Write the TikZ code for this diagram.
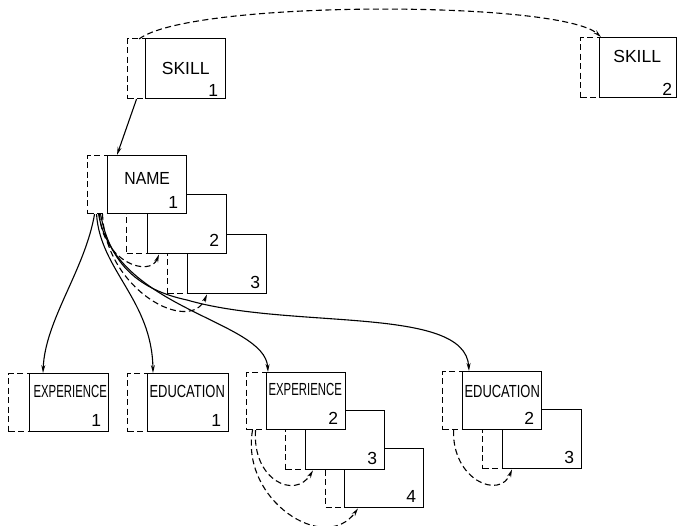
\documentclass[tikz,border=0pt]{standalone}
\usepackage{fontspec}
\setmainfont{Liberation Sans}
\usepackage{graphicx}
\usetikzlibrary{arrows.meta,calc}
% horizontally squeezed caption text
\newcommand\sqz[2]{\scalebox{#1}[1]{#2}}
\begin{document}
\begin{tikzpicture}[x=1pt,y=-1pt,
  card/.style={draw, line width=1.4pt, fill=white, anchor=north west, inner sep=0,
               minimum width=79pt, minimum height=58pt},
  ghost/.style n args={2}{draw, line width=1.1pt, dash pattern=on 6pt off 3.5pt,
               fill=white, anchor=north west, inner sep=0,
               minimum width=#1, minimum height=#2},
  ttl/.style={inner sep=0, anchor=north, font=\fontsize{17.5}{17.5}\selectfont},
  num/.style={inner sep=0, anchor=base east, font=\fontsize{17.5}{17.5}\selectfont},
  link/.style={line width=1.1pt, -{Stealth[length=8pt,width=4pt]}},
  dlink/.style={link, dash pattern=on 6pt off 3.5pt},
]
\useasboundingbox[fill=white] (0,0) rectangle (678,526);

% ---- SKILL records ----
\node[ghost={18pt}{60pt}] (s1g) at (127,38) {};
\node[card, minimum width=80pt, minimum height=60pt] (s1) at (145,38) {};
\node[ttl] (s1t) at ($(s1.north)+(0,24)$) {\sqz{1}{SKILL}};
\node[num] (s1n) at ($(s1.south east)+(-8,-3)$) {1};

\node[ghost={19pt}{60pt}] (s2g) at (580,37) {};
\node[card, minimum width=77pt, minimum height=60pt] (s2) at (599,37) {};
\node[ttl] (s2t) at ($(s2.north)+(-1,13)$) {\sqz{1}{SKILL}};
\node[num] (s2n) at ($(s2.south east)+(-5,-3)$) {2};

% ---- NAME records (stacked, back to front) ----
\node[ghost={20pt}{40pt}] (n3g) at (167,253) {};
\node[card, minimum height=59pt] (n3) at (187,234) {};
\node[num] (n3n) at ($(n3.south east)+(-7,-6)$) {3};
\node[ghost={21pt}{40pt}] (n2g) at (126,213) {};
\node[card, minimum height=59pt] (n2) at (147,194) {};
\node[num] (n2n) at ($(n2.south east)+(-8,-8)$) {2};
\node[ghost={20pt}{58pt}] (n1g) at (87,155) {};
\node[card] (n1) at (107,155) {};
\node[ttl] (n1t) at ($(n1.north)+(0,17)$) {\sqz{0.9}{NAME}};
\node[num] (n1n) at ($(n1.south east)+(-9,-6)$) {1};

% ---- EXPERIENCE 1 / EDUCATION 1 ----
\node[ghost={21pt}{58pt}] (e1g) at (8,373) {};
\node[card] (e1) at (29,373) {};
\node[ttl] (e1t) at ($(e1.north)+(1,12)$) {\sqz{0.65}{EXPERIENCE}};
\node[num] (e1n) at ($(e1.south east)+(-8,-6)$) {1};

\node[ghost={20pt}{58pt}] (d1g) at (127,373) {};
\node[card, minimum width=81pt] (d1) at (147,373) {};
\node[ttl] (d1t) at ($(d1.north)+(-1,12)$) {\sqz{0.74}{EDUCATION}};
\node[num] (d1n) at ($(d1.south east)+(-8,-6)$) {1};

% ---- EXPERIENCE 2..4 ----
\node[ghost={19pt}{38pt}] (e4g) at (325,469) {};
\node[card, minimum height=59pt] (e4) at (344,448) {};
\node[num] (e4n) at ($(e4.south east)+(-8,-6)$) {4};
\node[ghost={20pt}{40pt}] (e3g) at (285,429) {};
\node[card, minimum height=59pt] (e3) at (305,410) {};
\node[num] (e3n) at ($(e3.south east)+(-8,-6)$) {3};
\node[ghost={20pt}{57pt}] (e2g) at (246,372) {};
\node[card, minimum height=57pt] (e2) at (266,372) {};
\node[ttl] (e2t) at ($(e2.north)+(-1,11)$) {\sqz{0.65}{EXPERIENCE}};
\node[num] (e2n) at ($(e2.south east)+(-8,-6)$) {2};

% ---- EDUCATION 2..3 ----
\node[ghost={20pt}{39pt}] (d3g) at (482,429) {};
\node[card, minimum height=59pt] (d3) at (502,409) {};
\node[num] (d3n) at ($(d3.south east)+(-8,-6)$) {3};
\node[ghost={20pt}{58pt}] (d2g) at (442,371) {};
\node[card] (d2) at (462,371) {};
\node[ttl] (d2t) at ($(d2.north)+(0,14)$) {\sqz{0.74}{EDUCATION}};
\node[num] (d2n) at ($(d2.south east)+(-8,-6)$) {2};

% ---- connectors ----
\draw[dlink] ($(s1g.north east)+(-7,1)$) .. controls (190,0) and (560,0) .. ($(s2.north west)+(2,0)$);
\draw[link] (s1g.south) -- ($(n1.north west)+(10,0)$);

\draw[link] ($(n1g.south)+(-3,0)$) .. controls (85,270) and (45,320) .. ($(e1.north west)+(14,0)$);
\draw[link] ($(n1g.south)+(-1,0)$) .. controls (100,270) and (152,300) .. ($(d1.north west)+(6,0)$);
\draw[link] ($(n1g.south)+(1,0)$) .. controls (115,310) and (265,320) .. ($(e2.north west)+(2,0)$);
\draw[link] ($(n1g.south)+(3,0)$) .. controls (110,265) and (140,290) .. (187,300)
  .. controls (290,330) and (465,305) .. ($(d2.north west)+(7,0)$);

\draw[dlink] ($(n1g.south)+(2,0)$) .. controls (102,262) and (150,278) .. ($(n2.south west)+(12,0)$);
\draw[dlink] ($(n1g.south)+(5,0)$) .. controls (105,290) and (190,335) .. ($(n3.south west)+(20,0)$);

\draw[dlink] ($(e2g.south)+(-1,0)$) .. controls (252,480) and (295,500) .. ($(e3.south west)+(8,0)$);
\draw[dlink] ($(e2g.south)+(-4,0)$) .. controls (240,500) and (325,555) .. ($(e4.south west)+(14,0)$);
\draw[dlink] ($(d2g.south)+(1,0)$) .. controls (452,480) and (500,500) .. ($(d3.south west)+(10,0)$);
\end{tikzpicture}
\end{document}
